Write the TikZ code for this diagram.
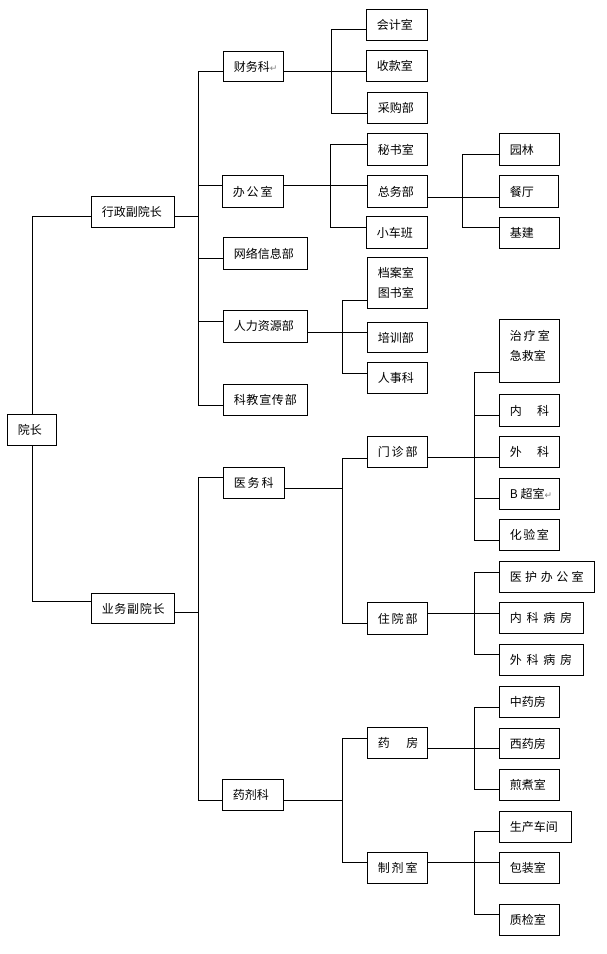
\documentclass[tikz,border=0pt]{standalone}
\usepackage{fontspec}
\setmainfont{Noto Sans CJK SC}
\newfontfamily\dvfont{DejaVu Sans}
\newcommand\gp[1]{\kern#1pt\relax}
\newcommand\ret{{\dvfont\fontsize{9pt}{9pt}\selectfont\color{gray}↵}}
\begin{document}
\begin{tikzpicture}[x=1pt,y=-1pt,line width=0.9pt,
  bx/.style={draw, anchor=north west, inner xsep=10pt, inner ysep=0pt,
    align=left, text width=#1, font=\fontsize{12pt}{20pt}\selectfont}]
\fill[white] (0,0) rectangle (606,954);
\useasboundingbox (0,0) rectangle (606,954);

% level 0 and 1
\node[bx=28.4pt, minimum height=31pt] (yz) at (7.3,414.3) {院长};
\node[bx=63pt, minimum height=31pt] (xz) at (91.3,196.3) {行政副院长};
\node[bx=63pt, minimum height=30.6pt] (yw) at (91.3,592.7) {业\gp{0.7}务\gp{0.7}副\gp{0.7}院\gp{0.7}长};

% level 2
\node[bx=40pt, minimum height=30.6pt] (cw) at (223.3,50.7) {财务科\ret};
\node[bx=40.4pt, minimum height=31.4pt] (bg) at (222.3,175.3) {办\gp{2}公\gp{2}室};
\node[bx=63.4pt, minimum height=32pt] (wl) at (223.3,237.3) {网络信息部};
\node[bx=64pt, minimum height=31.7pt] (rl) at (223.3,310) {人力资源部};
\node[bx=63.4pt, minimum height=31pt] (kj) at (223.3,384.3) {科\gp{0.75}教\gp{0.75}宣\gp{0.75}传\gp{0.75}部};
\node[bx=40.4pt, minimum height=31pt] (yws) at (223.3,467.3) {医\gp{2}务\gp{2}科};
\node[bx=40.4pt, minimum height=31pt] (yj) at (222.3,779.3) {药剂科};

% level 3
\node[bx=40.4pt, minimum height=31pt] (kjs) at (366.3,9.3) {会计室};
\node[bx=40.4pt, minimum height=31pt] (sk) at (366.3,50.3) {收款室};
\node[bx=40pt, minimum height=31pt] (cg) at (367.3,92.3) {采购部};
\node[bx=40pt, minimum height=32pt] (ms) at (367.3,133.3) {秘书室};
\node[bx=40pt, minimum height=31.4pt] (zw) at (367.3,175.3) {总务部};
\node[bx=40.4pt, minimum height=32pt] (xc) at (366.3,216.3) {小车班};
\node[bx=40pt, minimum height=51pt] (da) at (367.3,257.3) {档案室\\图书室};
\node[bx=40pt, minimum height=30.6pt] (px) at (367.3,321.7) {培训部};
\node[bx=40pt, minimum height=31pt] (rs) at (367.3,362.3) {人事科};
\node[bx=40pt, minimum height=31pt] (mz) at (367.3,436.3) {门\gp{2}诊\gp{2}部};
\node[bx=40pt, minimum height=31.5pt] (zy) at (367.3,602.3) {住\gp{2}院\gp{2}部};
\node[bx=39.4pt, minimum height=31pt] (yf) at (367.3,727.3) {药\gp{16.7}房};
\node[bx=40pt, minimum height=31pt] (zj) at (367.3,852.3) {制\gp{2}剂\gp{2}室};

% level 4
\node[bx=40pt, minimum height=32pt] (yl) at (499.3,133.3) {园林};
\node[bx=39pt, minimum height=31.4pt] (ct) at (499.3,175.3) {餐厅};
\node[bx=40pt, minimum height=31pt] (jj) at (499.3,217.3) {基建};
\node[bx=40pt, minimum height=63pt] (zl) at (499.3,319.3)
  {\raisebox{-8.8pt}[0pt][0pt]{\parbox[b]{44pt}{\fontsize{12pt}{20pt}\selectfont 治\gp{2}疗\gp{2}室\\急救室}}};
\node[bx=40pt, minimum height=32pt] (nk) at (499.3,394.3) {内\gp{15.3}科};
\node[bx=40pt, minimum height=31.3pt] (wk) at (499.3,436) {外\gp{15.3}科};
\node[bx=40pt, minimum height=31.3pt] (bc) at (499.3,478) {B\gp{3}超室\ret};
\node[bx=40pt, minimum height=30.7pt] (hy) at (499.3,519.3) {化\gp{1.5}验\gp{1.5}室};
\node[bx=75pt, minimum height=30.7pt] (yh) at (499.3,561) {医\gp{3.5}护\gp{3.5}办\gp{3.5}公\gp{3.5}室};
\node[bx=63.4pt, minimum height=31pt] (nb) at (499.3,602.3) {内\gp{4.8}科\gp{4.8}病\gp{4.8}房};
\node[bx=63.4pt, minimum height=31pt] (wb) at (499.3,644.3) {外\gp{4.8}科\gp{4.8}病\gp{4.8}房};
\node[bx=40pt, minimum height=31pt] (zyf) at (499.3,686.3) {中药房};
\node[bx=40pt, minimum height=30.6pt] (xy) at (499.3,727.7) {西药房};
\node[bx=40pt, minimum height=31pt] (jz) at (499.3,769.3) {煎煮室};
\node[bx=51.4pt, minimum height=31.6pt] (sc) at (499.3,810.7) {生产车间};
\node[bx=40pt, minimum height=31pt] (bz) at (499.3,852.3) {包装室};
\node[bx=40pt, minimum height=31pt] (zq) at (499.3,904.3) {质检室};

% bus tops
\coordinate (bA) at (198.3,71.3);
\coordinate (bB) at (198.3,477.3);
\coordinate (bC) at (331,29.3);
\coordinate (bD) at (330.3,144.3);
\coordinate (bE) at (462.3,154.3);
\coordinate (bF) at (342.3,300);
\coordinate (bG) at (342.3,457.7);
\coordinate (bH) at (474.3,371.7);
\coordinate (bI) at (474.3,571.7);
\coordinate (bJ) at (342.3,737.7);
\coordinate (bK) at (474.3,706.7);
\coordinate (bL) at (474.3,831.3);

% root connectors
\draw (yz.north) |- ([yshift=-4.2pt]xz.west);
\draw (yz.south) |- ([yshift=7pt]yw.west);

% parent stubs
\draw ([yshift=-4.2pt]xz.east) -| (bA);
\draw ([yshift=-4.3pt]yw.east) -| (bB);
\draw ([yshift=-5.3pt]cw.east) -| (bC);
\draw ([yshift=6pt]bg.east) -| (bD);
\draw ([yshift=-5.7pt]zw.east) -| (bE);
\draw ([yshift=-5.65pt]rl.east) -| (bF);
\draw ([yshift=-5.5pt]yws.east) -| (bG);
\draw ([yshift=-4.9pt]mz.east) -| (bH);
\draw ([yshift=4.75pt]zy.east) -| (bI);
\draw ([yshift=-5.5pt]yj.east) -| (bJ);
\draw ([yshift=-5.2pt]yf.east) -| (bK);
\draw ([yshift=5.8pt]zj.east) -| (bL);

% child stubs
\foreach \n/\s in {cw/-5.3, bg/6, wl/-4.7, rl/4.85, kj/-5.5}
  \draw ([yshift=\s pt]\n.west) -| (bA);
\foreach \n/\s in {yws/5.5, yj/-5.5}
  \draw ([yshift=\s pt]\n.west) -| (bB);
\foreach \n/\s in {kjs/-4.5, sk/-5.5, cg/-4.9}
  \draw ([yshift=\s pt]\n.west) -| (bC);
\foreach \n/\s in {ms/5, zw/6, xc/5}
  \draw ([yshift=\s pt]\n.west) -| (bD);
\foreach \n/\s in {yl/-5, ct/-5.7, jj/5.5}
  \draw ([yshift=\s pt]\n.west) -| (bE);
\foreach \n/\s in {da/-17.2, px/5.5, rs/5.1}
  \draw ([yshift=\s pt]\n.west) -| (bF);
\foreach \n/\s in {mz/-5.9, zy/-5.25}
  \draw ([yshift=\s pt]\n.west) -| (bG);
\foreach \n/\s in {zl/-20.9, nk/-4.7, wk/-5.05, bc/-4.65, hy/-5.35}
  \draw ([yshift=\s pt]\n.west) -| (bH);
\foreach \n/\s in {yh/4.65, nb/4.5, wb/5.8}
  \draw ([yshift=\s pt]\n.west) -| (bI);
\foreach \n/\s in {yf/5.1, zj/5.8}
  \draw ([yshift=\s pt]\n.west) -| (bJ);
\foreach \n/\s in {zyf/-4.9, xy/-5, jz/-4.5}
  \draw ([yshift=\s pt]\n.west) -| (bK);
\foreach \n/\s in {sc/-4.8, bz/5.8, zq/5.5}
  \draw ([yshift=\s pt]\n.west) -| (bL);
\end{tikzpicture}
\end{document}
